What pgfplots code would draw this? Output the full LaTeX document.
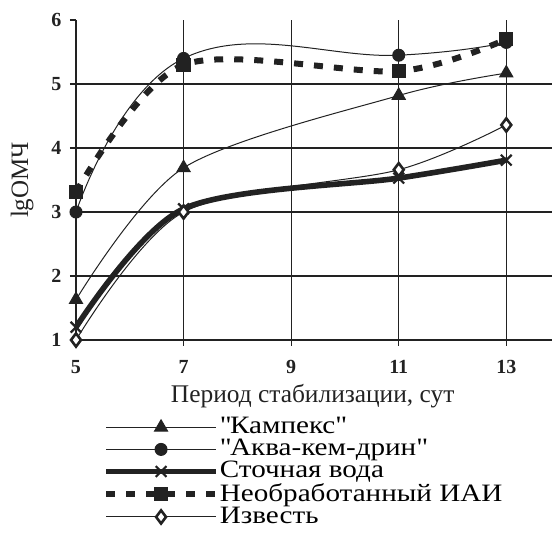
\documentclass[border=0pt]{standalone}
\usepackage{fontspec}
\setmainfont{Liberation Serif}
\newfontfamily\legfont[FakeStretch=1.165]{Liberation Serif}
\usepackage{pgfplots}
\pgfplotsset{compat=1.18}
\definecolor{ink}{HTML}{222222}
\begin{document}
\fontsize{12.5}{14}\selectfont
\begin{tikzpicture}
\begin{axis}[
  name=ax,
  scale only axis,
  width=238pt, height=160pt,
  xmin=5, xmax=13.85, ymin=1, ymax=6,
  axis x line=none,
  axis y line*=left,
  xtick={5,7,9,11,13},
  ytick={1,2,3,4,5,6},
  grid=none,
  tick align=outside,
  major tick length=3pt,
  every tick/.style={ink, line width=0.6pt},
  axis line style={ink, line width=0.7pt},
  ticklabel style={font=\fontsize{10}{12}\selectfont\bfseries, text=ink},
  /pgf/number format/assume math mode=true,
  clip=false,
  legend style={at={(0.056,-0.238)}, anchor=north west, draw=none, fill=none,
    font=\legfont\fontsize{12.5}{12.5}\selectfont, row sep=0.1pt, inner sep=0pt,
    nodes={inner sep=0.4pt},
    /tikz/every even column/.append style={column sep=1.5pt}},
  legend cell align=left,
  legend image code/.code={\draw[mark repeat=2,mark phase=2] plot coordinates {(0pt,0pt) (27.5pt,0pt) (55pt,0pt)};},
]
% grid lines
\addplot[ink, line width=0.6pt, forget plot] coordinates {(5,1) (13.85,1)};
\addplot[ink, line width=0.6pt, forget plot] coordinates {(5,2) (13.85,2)};
\addplot[ink, line width=0.6pt, forget plot] coordinates {(5,3) (13.85,3)};
\addplot[ink, line width=0.6pt, forget plot] coordinates {(5,4) (13.85,4)};
\addplot[ink, line width=0.6pt, forget plot] coordinates {(5,5) (13.85,5)};
\addplot[ink, line width=0.6pt, forget plot] coordinates {(7,0.91) (7,6)};
\addplot[ink, line width=0.6pt, forget plot] coordinates {(9,0.91) (9,6)};
\addplot[ink, line width=0.6pt, forget plot] coordinates {(11,0.91) (11,6)};
\addplot[ink, line width=0.6pt, forget plot] coordinates {(13,0.91) (13,6)};
\addplot[ink, line width=0.6pt, forget plot] coordinates {(5,0.91) (5,1)};
% x tick labels
\addplot[only marks, mark=none, forget plot,
  nodes near coords={\pgfmathprintnumber{\pgfplotspointmeta}},
  point meta=x,
  every node near coord/.style={anchor=center, yshift=-13.5pt, font=\fontsize{10}{12}\selectfont\bfseries, text=ink}]
  coordinates {(5,1) (7,1) (9,1) (11,1) (13,1)};
\node[font=\fontsize{12.7}{14}\selectfont, text=ink, anchor=center] at (axis cs:9.4,0.13) {Период стабилизации, сут};
\node[font=\fontsize{12.5}{14}\selectfont, text=ink, anchor=center, rotate=90] at (axis cs:4.0,3.5) {lgОМЧ};

\addplot[ink, line width=0.5pt, smooth, mark=triangle*, mark size=3.8pt, mark options={solid, fill=ink}]
  coordinates {(5,1.63) (7,3.69) (11,4.82) (13,5.17)};
\addlegendentry{\textquotedbl Кампекс\textquotedbl}
\addplot[ink, line width=0.5pt, smooth, tension=0.75, mark=*, mark size=3pt, mark options={solid, fill=ink}]
  coordinates {(5,3.0) (7,5.4) (11,5.45) (13,5.65)};
\addlegendentry{\textquotedbl Аква-кем-дрин\textquotedbl}
\addplot[ink, line width=2.8pt, smooth, mark=x, mark size=3.8pt, mark options={solid, line width=1.1pt}]
  coordinates {(5,1.2) (7,3.05) (11,3.53) (13,3.81)};
\addlegendentry{Сточная вода}
\addplot[ink, line width=3pt, smooth, dash pattern=on 4.5pt off 5.5pt, mark=square*, mark size=3.3pt, mark options={solid, fill=ink, line width=0.5pt}]
  coordinates {(5,3.31) (7,5.3) (11,5.2) (13,5.7)};
\addlegendentry{Необработанный ИАИ}
\addplot[ink, line width=0.5pt, smooth, mark=diamond*, mark size=3.3pt, mark options={solid, fill=white, line width=1.3pt}]
  coordinates {(5,1.0) (7,3.0) (11,3.66) (13,4.36)};
\addlegendentry{Известь}
\end{axis}
\pgfresetboundingbox
\path[use as bounding box] ([xshift=-38pt,yshift=-105.5pt]ax.south west) rectangle ([yshift=10pt]ax.north east);
\end{tikzpicture}
\end{document}
